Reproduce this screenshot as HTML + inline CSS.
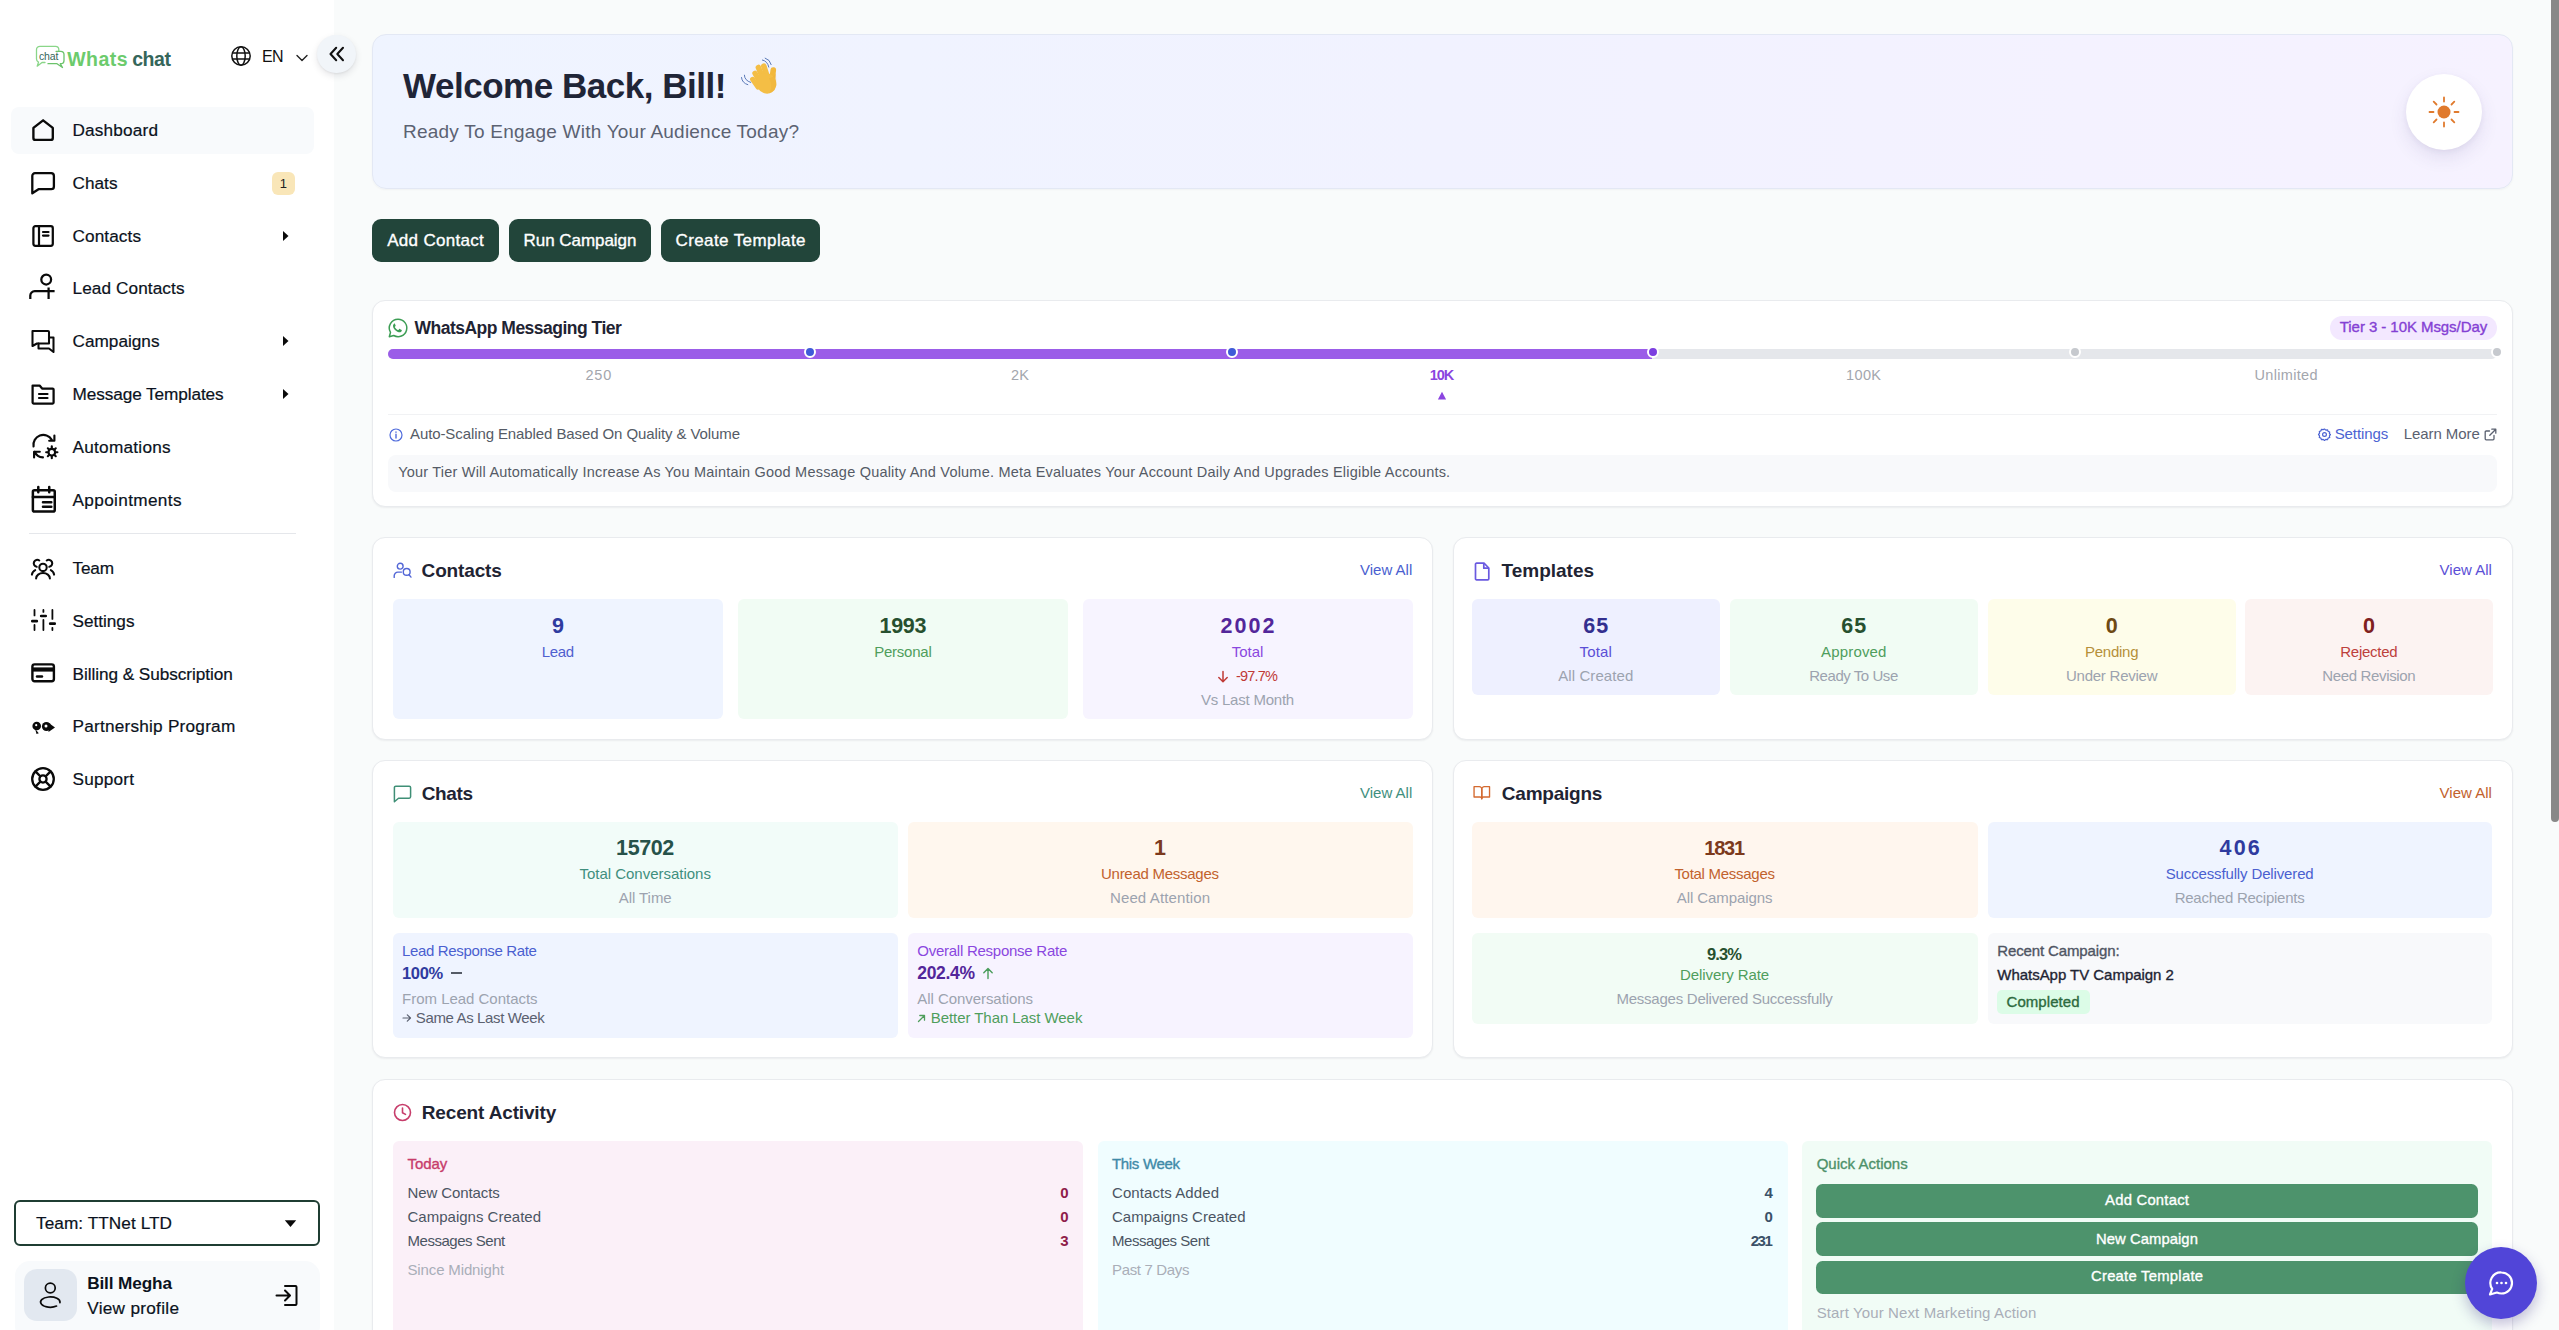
<!DOCTYPE html>
<html lang="en"><head><meta charset="utf-8"><title>Whatschat Dashboard</title><style>
*{margin:0;padding:0;box-sizing:border-box}
html,body{width:2559px;height:1330px;overflow:hidden;background:#f9fbfb}
body{font-family:"Liberation Sans", sans-serif;position:relative}
.b{position:absolute;display:block}
svg.b{overflow:visible}
.t{position:absolute;white-space:nowrap;display:block;font-weight:400;text-decoration:none}
.g{display:contents}
</style></head>
<body>
<aside class="g">
<div class="b" style="left:0px;top:0px;width:334px;height:1330px;background:#ffffff;"></div>
<svg class="b" style="left:34px;top:44px;" width="32" height="26" viewBox="0 0 32 26"><path d="M21.500 2.300H6a3.500 3.500 0 0 0-3.500 3.500v9.200a3.500 3.500 0 0 0 2 3.200L3.200 22.200l4.800-3.700h3M21.500 2.300a3.300 3.300 0 0 1 3.300 3.300v1.700" fill="none" stroke="#8ad689" stroke-width="1.300" stroke-linejoin="round" stroke-linecap="round"/><path d="M22 7.300h4.800a3.200 3.200 0 0 1 3.200 3.200v6a3.200 3.200 0 0 1-3.200 3.200h-.5l2.200 3.800-5.500-3.800h-9" fill="none" stroke="#6cc36b" stroke-width="1.300" stroke-linejoin="round" stroke-linecap="round"/><text x="14.600" y="15.700" font-family="Liberation Sans, sans-serif" font-size="10.500" text-anchor="middle" fill="#35665a" letter-spacing="-0.200">chat</text></svg>
<span class="t" style="top:50.00px;font-size:19.5px;line-height:19.5px;color:#6ccb6c;font-weight:700;letter-spacing:0.450px;left:67.2px;">Whats</span>
<span class="t" style="top:50.00px;font-size:19.5px;line-height:19.5px;color:#35665a;font-weight:700;letter-spacing:-0.436px;left:132.2px;">chat</span>
<svg class="b" style="left:230px;top:45px;" width="22" height="22" viewBox="0 0 22 22"><g fill="none" stroke="#111" stroke-width="1.5"><circle cx="11" cy="11" r="9.2"/><ellipse cx="11" cy="11" rx="4.2" ry="9.2"/><path d="M2 8h18M2 14h18"/></g></svg>
<span class="t" style="top:49.00px;font-size:16px;line-height:16px;color:#111;letter-spacing:-0.734px;left:262px;">EN</span>
<svg class="b" style="left:295px;top:53px;" width="14" height="10" viewBox="0 0 14 10"><path d="M2 2.5l5 5 5-5" fill="none" stroke="#222" stroke-width="1.4" stroke-linecap="round" stroke-linejoin="round"/></svg>
<div class="b" style="left:317.4px;top:34.5px;width:38.2px;height:38.2px;background:#f1f5f9;border-radius:20px;box-shadow:0 3px 7px rgba(15,23,42,.10), 0 1px 2px rgba(15,23,42,.06);"></div>
<svg class="b" style="left:328.6px;top:45.7px;" width="16" height="16" viewBox="0 0 16 16"><path d="M7.2 1.800L1.500 8l5.700 6.200M14 1.800L8.300 8l5.700 6.200" fill="none" stroke="#111" stroke-width="2.05" stroke-linecap="round" stroke-linejoin="round"/></svg>
<div class="b" style="left:11px;top:106.5px;width:303px;height:47.5px;background:#f8fafc;border-radius:8px;"></div>
<a class="t" style="top:122.00px;font-size:17.2px;line-height:17.2px;color:#0b1220;-webkit-text-stroke:0.2px currentColor;letter-spacing:0.176px;left:72.5px;">Dashboard</a>
<a class="t" style="top:175.00px;font-size:17.2px;line-height:17.2px;color:#0b1220;-webkit-text-stroke:0.2px currentColor;letter-spacing:0.023px;left:72.5px;">Chats</a>
<a class="t" style="top:228.00px;font-size:17.2px;line-height:17.2px;color:#0b1220;-webkit-text-stroke:0.2px currentColor;letter-spacing:0.096px;left:72.5px;">Contacts</a>
<a class="t" style="top:280.00px;font-size:17.2px;line-height:17.2px;color:#0b1220;-webkit-text-stroke:0.2px currentColor;letter-spacing:0.096px;left:72.5px;">Lead Contacts</a>
<a class="t" style="top:333.00px;font-size:17.2px;line-height:17.2px;color:#0b1220;-webkit-text-stroke:0.2px currentColor;letter-spacing:0.008px;left:72.5px;">Campaigns</a>
<a class="t" style="top:386.00px;font-size:17.2px;line-height:17.2px;color:#0b1220;-webkit-text-stroke:0.2px currentColor;letter-spacing:-0.084px;left:72.5px;">Message Templates</a>
<a class="t" style="top:439.00px;font-size:17.2px;line-height:17.2px;color:#0b1220;-webkit-text-stroke:0.2px currentColor;letter-spacing:0.265px;left:72.5px;">Automations</a>
<a class="t" style="top:492.00px;font-size:17.2px;line-height:17.2px;color:#0b1220;-webkit-text-stroke:0.2px currentColor;letter-spacing:0.354px;left:72.5px;">Appointments</a>
<a class="t" style="top:560.00px;font-size:17.2px;line-height:17.2px;color:#0b1220;-webkit-text-stroke:0.2px currentColor;letter-spacing:-0.177px;left:72.5px;">Team</a>
<a class="t" style="top:613.00px;font-size:17.2px;line-height:17.2px;color:#0b1220;-webkit-text-stroke:0.2px currentColor;letter-spacing:-0.016px;left:72.5px;">Settings</a>
<a class="t" style="top:666.00px;font-size:17.2px;line-height:17.2px;color:#0b1220;-webkit-text-stroke:0.2px currentColor;letter-spacing:-0.055px;left:72.5px;">Billing &amp; Subscription</a>
<a class="t" style="top:718.00px;font-size:17.2px;line-height:17.2px;color:#0b1220;-webkit-text-stroke:0.2px currentColor;letter-spacing:0.229px;left:72.5px;">Partnership Program</a>
<a class="t" style="top:771.00px;font-size:17.2px;line-height:17.2px;color:#0b1220;-webkit-text-stroke:0.2px currentColor;letter-spacing:0.216px;left:72.5px;">Support</a>
<svg class="b" style="left:31.2px;top:118.0px;" width="24" height="24" viewBox="0 0 24 24"><g fill="none" stroke="#0a0a0a" stroke-width="2.25" stroke-linecap="round" stroke-linejoin="round"><path d="M2.400 9.900L12.100 2.300l9.700 7.600v10a2 2 0 0 1-2 2H4.400a2 2 0 0 1-2-2z" stroke-width="2.35"/></g></svg>
<svg class="b" style="left:31.2px;top:171.32999999999998px;" width="24" height="24" viewBox="0 0 24 24"><g fill="none" stroke="#0a0a0a" stroke-width="2.25" stroke-linecap="round" stroke-linejoin="round"><path d="M4 2.200h16.200a2.700 2.700 0 0 1 2.700 2.700v10.600a2.700 2.700 0 0 1-2.700 2.700H7.500L1.300 22.300V4.900A2.700 2.700 0 0 1 4 2.200z" stroke-width="2.3"/></g></svg>
<svg class="b" style="left:31.2px;top:223.66px;" width="24" height="24" viewBox="0 0 24 24"><g fill="none" stroke="#0a0a0a" stroke-width="2.25" stroke-linecap="round" stroke-linejoin="round"><rect x="2.4" y="2.2" width="19.4" height="19.6" rx="2"/><path d="M8 2.2v19.6M12 8h5.5M12 11.6h5.5" stroke-width="2.2"/></g></svg>
<svg class="b" style="left:28px;top:271.19px;" width="28" height="30" viewBox="0 0 28 30"><g fill="none" stroke="#0a0a0a" stroke-width="2.25" stroke-linecap="round" stroke-linejoin="round" stroke-width="2.1"><circle cx="18.2" cy="8.6" r="4.9"/><path d="M2.3 28v-3.400a4.400 4.400 0 0 1 4.400-4.400H26.600M20.600 16.600V28" stroke-linecap="butt"/></g></svg>
<svg class="b" style="left:31.2px;top:329.32px;" width="24" height="24" viewBox="0 0 24 24"><g fill="none" stroke="#0a0a0a" stroke-width="2.25" stroke-linecap="round" stroke-linejoin="round"><path d="M1.5 2h15.5a1 1 0 0 1 1 1v11.5H6L1.5 17z" stroke-width="2.05"/><path d="M7.5 14.5v5h10.5l4.5 3.5V8.5h-4.5" stroke-width="2.05"/></g></svg>
<svg class="b" style="left:31.2px;top:381.65px;" width="24" height="24" viewBox="0 0 24 24"><g fill="none" stroke="#0a0a0a" stroke-width="2.25" stroke-linecap="round" stroke-linejoin="round"><path d="M1.6 3.5h7l2.5 3h10.5a1 1 0 0 1 1 1v13a1 1 0 0 1-1 1H2.6a1 1 0 0 1-1-1z"/><path d="M8 12h8.5M8 16h8.5" stroke-width="2.2"/></g></svg>
<svg class="b" style="left:31.5px;top:434.48px;" width="25" height="25" viewBox="0 0 24 24"><g fill="none" stroke="#0a0a0a" stroke-width="2.25" stroke-linecap="round" stroke-linejoin="round"><path d="M1.5 12A9.5 9.5 0 0 1 19 5.5M21.5 1.5v5h-5" stroke-width="2.05"/><path d="M10.5 22.5A9.5 9.5 0 0 1 2.5 17M2 22.5v-5.5h5.5" stroke-width="2.05"/><circle cx="19" cy="17.5" r="3.2" stroke-width="2.05"/><path d="M19 11.8v2M19 21.2v2M13.6 17.5h2M22.4 17.5h2M15.2 13.7l1.4 1.4M21.4 19.9l1.4 1.4M22.8 13.7l-1.4 1.4M16.6 19.9l-1.4 1.4" stroke-width="2.05"/></g></svg>
<svg class="b" style="left:31.2px;top:486.31px;" width="25" height="25" viewBox="0 0 24 24"><g fill="none" stroke="#0a0a0a" stroke-width="2.25" stroke-linecap="round" stroke-linejoin="round"><rect x="1.8" y="4" width="21" height="20.5" rx="1.5" stroke-width="2.4"/><path d="M1.8 10.5h21M7 1v5M17.5 1v5M11.5 15.5h8M11.5 20h8" stroke-width="2.4"/></g></svg>
<svg class="b" style="left:31.2px;top:559.0px;" width="24" height="24" viewBox="0 0 24 24"><g fill="none" stroke="#0a0a0a" stroke-width="2.25" stroke-linecap="round" stroke-linejoin="round"><circle cx="12" cy="8.400" r="3.700" stroke-width="2.050"/><path d="M5.100 19.400a6.900 5.400 0 0 1 13.800 0" stroke-width="2.050"/><path d="M8.300 1.500A3.500 3.500 0 1 0 5.700 7.800M15.700 1.500a3.500 3.500 0 1 1 2.600 6.300M0.900 15.600a6 6 0 0 1 3.300-4.500M23.100 15.600a6 6 0 0 0-3.300-4.500" stroke-width="2.050"/></g></svg>
<svg class="b" style="left:31px;top:609.4300000000001px;" width="25" height="22" viewBox="0 0 25 22"><g fill="none" stroke="#0a0a0a" stroke-linecap="round"><path d="M3.500 0.900v5.500M3.500 16v5M12.400 0.900v2M12.400 11v10M21.400 0.900v9M21.400 18.800v2.200" stroke-width="1.800"/><path d="M1.300 12.200h4.500M10.200 7h4.500M19.200 14.700h4.500" stroke-width="2.700"/></g></svg>
<svg class="b" style="left:31.2px;top:662.36px;" width="24" height="24" viewBox="0 0 24 24"><g fill="none" stroke="#0a0a0a" stroke-width="2.25" stroke-linecap="round" stroke-linejoin="round"><rect x="1.400" y="2.400" width="21.500" height="16.800" rx="2.200" stroke-width="2.400"/><path d="M1.400 7.500h21.500" stroke-width="4.200" stroke-linecap="butt"/><path d="M6 14.500h5" stroke-width="2.400"/></g></svg>
<svg class="b" style="left:31.5px;top:720.89px;" width="24" height="13" viewBox="0 0 24 13"><g fill="#0a0a0a"><circle cx="4.700" cy="5" r="4.300"/><path d="M3.200 8l3.600 4.200-2.300.8z"/><circle cx="14.400" cy="5.500" r="4.500"/><path d="M16.500 1.800l6.500 4.800-6.500 4.400z"/><circle cx="4.200" cy="4.200" r="1.100" fill="#fff"/><circle cx="14" cy="5" r="1.500" fill="#fff"/></g></svg>
<svg class="b" style="left:31.2px;top:767.3199999999999px;" width="24" height="24" viewBox="0 0 24 24"><g fill="none" stroke="#0a0a0a" stroke-width="2.25" stroke-linecap="round" stroke-linejoin="round"><circle cx="12" cy="12" r="10.800" stroke-width="2.300"/><circle cx="12" cy="12" r="3.600" stroke-width="2.300"/><path d="M4.400 4.400l5 5M19.600 4.400l-5 5M4.400 19.600l5-5M19.600 19.600l-5-5" stroke-width="2.300"/></g></svg>
<div class="b" style="left:271.5px;top:171.5px;width:23.5px;height:23px;background:#f9e6b8;border-radius:6px;"></div>
<span class="t" style="top:177.00px;font-size:13px;line-height:13px;color:#222;left:283.30px;transform:translateX(-50%);">1</span>
<svg class="b" style="left:282px;top:229.66px;" width="8" height="12" viewBox="0 0 8 12"><path d="M1 1l5.500 5-5.500 5z" fill="#0a0a0a"/></svg>
<svg class="b" style="left:282px;top:335.32px;" width="8" height="12" viewBox="0 0 8 12"><path d="M1 1l5.500 5-5.500 5z" fill="#0a0a0a"/></svg>
<svg class="b" style="left:282px;top:388.15px;" width="8" height="12" viewBox="0 0 8 12"><path d="M1 1l5.500 5-5.500 5z" fill="#0a0a0a"/></svg>
<div class="b" style="left:29px;top:533px;width:267px;height:1px;background:#e5e7eb;"></div>
<div class="b" style="left:14.3px;top:1200.3px;width:305.4px;height:46.1px;background:#fff;border-radius:6px;border:2px solid #1f3d33;"></div>
<span class="t" style="top:1215.00px;font-size:17.2px;line-height:17.2px;color:#0b1220;-webkit-text-stroke:0.2px currentColor;letter-spacing:0.073px;left:36px;">Team: TTNet LTD</span>
<svg class="b" style="left:284px;top:1219px;" width="13" height="9" viewBox="0 0 13 9"><path d="M0.800 1.200h11.400L6.500 8z" fill="#0a0a0a"/></svg>
<div class="b" style="left:15px;top:1260.6px;width:304.7px;height:80px;background:#f8fafc;border-radius:15px;"></div>
<div class="b" style="left:24.1px;top:1268.8px;width:53px;height:52.2px;background:#e2e8f0;border-radius:13px;"></div>
<svg class="b" style="left:38px;top:1280px;" width="26" height="28" viewBox="0 0 26 28"><g fill="none" stroke="#0a0a0a" stroke-width="1.700" stroke-linecap="round"><circle cx="12.300" cy="8" r="4.900"/><path d="M21.960 22.550A9.700 5.200 0 1 0 18.530 26.080"/></g></svg>
<span class="t" style="top:1275.00px;font-size:17.2px;line-height:17.2px;color:#0b1220;font-weight:700;letter-spacing:-0.128px;left:87.2px;">Bill Megha</span>
<span class="t" style="top:1300.00px;font-size:17.2px;line-height:17.2px;color:#0b1220;-webkit-text-stroke:0.2px currentColor;letter-spacing:0.297px;left:87.2px;">View profile</span>
<svg class="b" style="left:275px;top:1284px;" width="23" height="23" viewBox="0 0 23 23"><g fill="none" stroke="#0a0a0a" stroke-width="2" stroke-linecap="round" stroke-linejoin="round"><path d="M10 2h10.500a1 1 0 0 1 1 1v17a1 1 0 0 1-1 1H10"/><path d="M1.500 11.500h13M10 6.500l5 5-5 5"/></g></svg>
</aside>
<main class="g">
<header class="g">
<div class="b" style="left:372px;top:34px;width:2141px;height:155px;background:linear-gradient(90deg,#eff4ff 0%,#f1f2ff 50%,#f6f2ff 100%);border-radius:14px;border:1px solid #e3e8f4;box-shadow:0 1px 2px rgba(16,24,40,.04);"></div>
<h1 class="t" style="top:68.00px;font-size:35px;line-height:35px;color:#1f2537;font-weight:700;letter-spacing:-0.471px;left:403px;">Welcome Back, Bill!</h1>
<svg class="b" style="left:725px;top:45px;" width="70" height="60" viewBox="0 0 70 60"><g stroke="#f4be45" stroke-linecap="round" fill="none"><path d="M38.800 21.200L43 34" stroke-width="5.600"/><path d="M33.400 22.500L39 36" stroke-width="5.600"/><path d="M30 28.300L36 39" stroke-width="5.400"/><path d="M27.600 34.300L33 42" stroke-width="5"/><path d="M48.300 25L46.500 38" stroke-width="5.600" stroke="#f2b83c"/></g><ellipse cx="41.300" cy="38.300" rx="9.800" ry="10.600" transform="rotate(-32 41.300 38.300)" fill="#f4be45"/><path d="M44 33c2 .5 5-1 7-5l.2 12c-.5 4-3 7-7 8.200 2.500-4 2.800-9-.2-15.200z" fill="#efb23a" opacity=".55"/><g fill="none" stroke="#5273b3" stroke-width="0.950" stroke-linecap="round"><path d="M19.400 30.200Q19.500 35.500 25.700 37.400M16.500 32.500Q17 38 22.800 39.700M37.400 15Q42.500 16 43.800 22.100M40.200 13.100Q45 14.500 46.200 19.600"/></g></svg>
<p class="t" style="top:122.00px;font-size:19px;line-height:19px;color:#5b6272;letter-spacing:0.225px;left:403px;">Ready To Engage With Your Audience Today?</p>
<div class="b" style="left:2406px;top:74px;width:76px;height:76px;background:#fff;border-radius:38px;box-shadow:0 8px 18px rgba(60,50,120,.10), 0 2px 5px rgba(60,50,120,.06);"></div>
<svg class="b" style="left:2428px;top:96px;" width="32" height="32" viewBox="0 0 32 32"><g stroke="#e07a2d" stroke-width="1.800" stroke-linecap="round"><circle cx="16" cy="16" r="6.500" fill="#e07a2d" stroke="none"/><path d="M16 1.500v4M16 26.500v4M1.500 16h4M26.500 16h4M5.700 5.700l2.800 2.800M23.500 23.500l2.800 2.800M26.300 5.700l-2.800 2.800M8.500 23.500l-2.800 2.800"/></g></svg>
</header>
<nav class="g">
<div class="b" style="left:372px;top:219.2px;width:127px;height:42.8px;background:#22453a;border-radius:9px;"></div>
<a class="t" style="top:232.00px;font-size:17px;line-height:17px;color:#fff;-webkit-text-stroke:0.35px currentColor;letter-spacing:0.314px;left:435.66px;transform:translateX(-50%);">Add Contact</a>
<div class="b" style="left:509px;top:219.2px;width:142px;height:42.8px;background:#22453a;border-radius:9px;"></div>
<a class="t" style="top:232.00px;font-size:17px;line-height:17px;color:#fff;-webkit-text-stroke:0.35px currentColor;letter-spacing:-0.037px;left:579.98px;transform:translateX(-50%);">Run Campaign</a>
<div class="b" style="left:661px;top:219.2px;width:159px;height:42.8px;background:#22453a;border-radius:9px;"></div>
<a class="t" style="top:232.00px;font-size:17px;line-height:17px;color:#fff;-webkit-text-stroke:0.35px currentColor;letter-spacing:0.398px;left:740.70px;transform:translateX(-50%);">Create Template</a>
</nav>
<section class="g">
<div class="b" style="left:372px;top:300px;width:2141px;height:206.5px;background:#fff;border-radius:13px;border:1px solid #e9ebee;box-shadow:0 1px 2px rgba(16,24,40,.06);"></div>
<svg class="b" style="left:387.5px;top:318px;" width="20" height="20" viewBox="0 0 20 20"><path d="M10 1.300a8.700 8.700 0 0 0-7.500 13.100L1.300 18.700l4.400-1.200A8.700 8.700 0 1 0 10 1.300z" fill="none" stroke="#3c9d54" stroke-width="1.500" stroke-linejoin="round"/><path d="M6.800 5.600c-.3 0-.7.100-1 .5-.4.500-1 1.300-.7 2.600.4 1.600 1.500 3 2.900 4.100 1.300 1 2.600 1.500 3.600 1.500.9 0 1.800-.6 2.100-1.300.2-.5.200-1 0-1.100l-1.900-1c-.3-.1-.5 0-.7.200l-.6.800c-.2.200-.4.200-.7.100-1.200-.5-2.300-1.500-2.900-2.700-.1-.2 0-.4.100-.6l.5-.6c.2-.2.200-.4.100-.7L7 5.900c-.1-.2-.1-.3-.2-.3z" fill="#3c9d54"/></svg>
<h2 class="t" style="top:320.00px;font-size:17.5px;line-height:17.5px;color:#1f2433;font-weight:700;letter-spacing:-0.508px;left:414.5px;">WhatsApp Messaging Tier</h2>
<div class="b" style="left:2329.5px;top:316px;width:167.5px;height:24px;background:#f3e8ff;border-radius:12px;"></div>
<span class="t" style="top:319.00px;font-size:15px;line-height:15px;color:#8440d4;-webkit-text-stroke:0.35px currentColor;letter-spacing:-0.063px;left:2339.8px;">Tier 3 - 10K Msgs/Day</span>
<div class="b" style="left:388px;top:349px;width:2109px;height:10px;background:#e5e7eb;border-radius:5px;"></div>
<div class="b" style="left:388px;top:349px;width:1264px;height:10px;background:#9b5de8;border-radius:5px;border-radius:5px 0 0 5px;"></div>
<div class="b" style="left:804px;top:346px;width:12px;height:12px;background:#3f5bd8;border-radius:6px;border:2px solid #fff;"></div>
<div class="b" style="left:1225.5px;top:346px;width:12px;height:12px;background:#3f5bd8;border-radius:6px;border:2px solid #fff;"></div>
<div class="b" style="left:1646.9px;top:346px;width:12px;height:12px;background:#7c3fe0;border-radius:6px;border:2px solid #fff;"></div>
<div class="b" style="left:2069px;top:346px;width:12px;height:12px;background:#c6c9ce;border-radius:6px;border:2px solid #fff;"></div>
<div class="b" style="left:2491px;top:346px;width:12px;height:12px;background:#c6c9ce;border-radius:6px;border:2px solid #fff;"></div>
<span class="t" style="top:368.00px;font-size:14.5px;line-height:14.5px;color:#a3a6ad;letter-spacing:0.698px;left:598.75px;transform:translateX(-50%);">250</span>
<span class="t" style="top:368.00px;font-size:14.5px;line-height:14.5px;color:#a3a6ad;letter-spacing:0.250px;left:1020.12px;transform:translateX(-50%);">2K</span>
<span class="t" style="top:368.00px;font-size:14.5px;line-height:14.5px;color:#a3a6ad;letter-spacing:0.375px;left:1863.69px;transform:translateX(-50%);">100K</span>
<span class="t" style="top:368.00px;font-size:14.5px;line-height:14.5px;color:#a3a6ad;letter-spacing:0.320px;left:2286.16px;transform:translateX(-50%);">Unlimited</span>
<span class="t" style="top:368.00px;font-size:14.5px;line-height:14.5px;color:#8b45e0;font-weight:700;letter-spacing:-1.155px;left:1441.42px;transform:translateX(-50%);">10K</span>
<svg class="b" style="left:1437.2px;top:390.6px;" width="10" height="9" viewBox="0 0 10 9"><path d="M5 .7l4.100 7.800H.9z" fill="#8b45e0"/></svg>
<div class="b" style="left:388px;top:414px;width:2109px;height:1px;background:#f1f2f4;"></div>
<svg class="b" style="left:389px;top:427.5px;" width="14" height="14" viewBox="0 0 14 14"><circle cx="7" cy="7" r="6" fill="none" stroke="#4f6bdc" stroke-width="1.200"/><path d="M7 6.300v3.700M7 4v.3" stroke="#4f6bdc" stroke-width="1.400" stroke-linecap="round"/></svg>
<span class="t" style="top:426.00px;font-size:15px;line-height:15px;color:#555b66;letter-spacing:-0.097px;left:410px;">Auto-Scaling Enabled Based On Quality &amp; Volume</span>
<svg class="b" style="left:2318px;top:428px;" width="13" height="13" viewBox="0 0 13 13"><g fill="none" stroke="#4c63d2" stroke-width="1.200"><circle cx="6.500" cy="6.500" r="1.900"/><path d="M6.500 1l1.300 1.100 1.700-.3.600 1.600 1.600.600-.3 1.700L12.500 6.500l-1.100 1.300.3 1.700-1.600.600-.6 1.600-1.700-.3L6.500 12.500 5.200 11.400l-1.700.3-.6-1.600-1.600-.6.300-1.700L.5 6.500l1.100-1.300-.3-1.700 1.600-.6.600-1.600 1.700.3z" stroke-linejoin="round"/></g></svg>
<span class="t" style="top:426.00px;font-size:15px;line-height:15px;color:#4c63d2;letter-spacing:-0.100px;left:2334.7px;">Settings</span>
<span class="t" style="top:426.00px;font-size:15px;line-height:15px;color:#5b6170;letter-spacing:-0.080px;left:2403.8px;">Learn More</span>
<svg class="b" style="left:2484px;top:428px;" width="13" height="13" viewBox="0 0 13 13"><g fill="none" stroke="#5b6170" stroke-width="1.300" stroke-linecap="round" stroke-linejoin="round"><path d="M10 7.500v3.300a1 1 0 0 1-1 1H2.200a1 1 0 0 1-1-1V4a1 1 0 0 1 1-1h3.300"/><path d="M7.800 1.200h4v4M11.800 1.200L5.800 7.200"/></g></svg>
<div class="b" style="left:388px;top:455px;width:2109px;height:36.5px;background:#f8f9fb;border-radius:8px;"></div>
<span class="t" style="top:465.00px;font-size:14.5px;line-height:14.5px;color:#555b66;letter-spacing:0.207px;left:398.2px;">Your Tier Will Automatically Increase As You Maintain Good Message Quality And Volume. Meta Evaluates Your Account Daily And Upgrades Eligible Accounts.</span>
</section>
<section class="g">
<div class="b" style="left:372px;top:536.5px;width:1060.5px;height:203px;background:#fff;border-radius:13px;border:1px solid #e9ebee;box-shadow:0 1px 2px rgba(16,24,40,.06);"></div>
<svg class="b" style="left:393px;top:562px;" width="20" height="17" viewBox="0 0 20 17"><g fill="none" stroke="#5266d6" stroke-width="1.400" stroke-linecap="round"><circle cx="7.200" cy="4.200" r="2.900"/><path d="M1.200 15.400v-1.600a3.700 3.700 0 0 1 3.700-3.700h3.600"/><circle cx="13.700" cy="9.900" r="3.400"/><path d="M16 12.700l2 2.400"/></g></svg>
<h2 class="t" style="top:561.00px;font-size:19px;line-height:19px;color:#1f2433;font-weight:700;letter-spacing:-0.157px;left:421.6px;">Contacts</h2>
<span class="t" style="top:562.00px;font-size:15px;line-height:15px;color:#4a5fd0;left:1360px;">View All</span>
<div class="b" style="left:393px;top:599px;width:330px;height:119.5px;background:#eff4ff;border-radius:6px;"></div>
<div class="b" style="left:738px;top:599px;width:330px;height:119.5px;background:#f1fcf4;border-radius:6px;"></div>
<div class="b" style="left:1083px;top:599px;width:330px;height:119.5px;background:#f7f4ff;border-radius:6px;"></div>
<span class="t" style="top:616.00px;font-size:21.5px;line-height:21.5px;color:#2f3b9f;font-weight:700;left:558.00px;transform:translateX(-50%);">9</span>
<span class="t" style="top:644.00px;font-size:15px;line-height:15px;color:#4f60cf;letter-spacing:-0.358px;left:557.82px;transform:translateX(-50%);">Lead</span>
<span class="t" style="top:616.00px;font-size:21.5px;line-height:21.5px;color:#27502f;font-weight:700;letter-spacing:-0.281px;left:902.86px;transform:translateX(-50%);">1993</span>
<span class="t" style="top:644.00px;font-size:15px;line-height:15px;color:#4f9e5c;letter-spacing:-0.243px;left:902.88px;transform:translateX(-50%);">Personal</span>
<span class="t" style="top:616.00px;font-size:21.5px;line-height:21.5px;color:#53269a;font-weight:700;letter-spacing:2.119px;left:1248.56px;transform:translateX(-50%);">2002</span>
<span class="t" style="top:644.00px;font-size:15px;line-height:15px;color:#8a47e0;left:1247.50px;transform:translateX(-50%);">Total</span>
<svg class="b" style="left:1217px;top:670px;" width="12" height="13" viewBox="0 0 12 13"><path d="M6 1.500v10M1.800 7.500L6 11.700l4.200-4.200" fill="none" stroke="#c03a36" stroke-width="1.500" stroke-linecap="round" stroke-linejoin="round"/></svg>
<span class="t" style="top:669.00px;font-size:14.5px;line-height:14.5px;color:#c03a36;letter-spacing:-0.791px;left:1236px;">-97.7%</span>
<span class="t" style="top:692.00px;font-size:15px;line-height:15px;color:#9ca3af;letter-spacing:-0.224px;left:1247.49px;transform:translateX(-50%);">Vs Last Month</span>
</section>
<section class="g">
<div class="b" style="left:1452.5px;top:536.5px;width:1060.5px;height:203px;background:#fff;border-radius:13px;border:1px solid #e9ebee;box-shadow:0 1px 2px rgba(16,24,40,.06);"></div>
<svg class="b" style="left:1473.5px;top:561.5px;" width="17" height="19" viewBox="0 0 17 19"><g fill="none" stroke="#6a5ae0" stroke-width="1.700" stroke-linejoin="round"><path d="M2.500 1.200h7.500l4.800 4.800v10.800a1 1 0 0 1-1 1H2.500a1 1 0 0 1-1-1V2.200a1 1 0 0 1 1-1z"/><path d="M9.800 1.500v4.700h4.700"/></g></svg>
<h2 class="t" style="top:561.00px;font-size:19px;line-height:19px;color:#1f2433;font-weight:700;letter-spacing:-0.022px;left:1501.6px;">Templates</h2>
<span class="t" style="top:562.00px;font-size:15px;line-height:15px;color:#5b4fd6;left:2439.6px;">View All</span>
<div class="b" style="left:1472px;top:599px;width:247.5px;height:95.5px;background:#eef0ff;border-radius:6px;"></div>
<span class="t" style="top:616.00px;font-size:21.5px;line-height:21.5px;color:#332f8f;font-weight:700;letter-spacing:1.078px;left:1596.29px;transform:translateX(-50%);">65</span>
<span class="t" style="top:644.00px;font-size:15px;line-height:15px;color:#5b4fd6;letter-spacing:0.153px;left:1595.83px;transform:translateX(-50%);">Total</span>
<span class="t" style="top:668.00px;font-size:15px;line-height:15px;color:#9ca3af;letter-spacing:0.080px;left:1595.79px;transform:translateX(-50%);">All Created</span>
<div class="b" style="left:1730px;top:599px;width:247.5px;height:95.5px;background:#f1fcf4;border-radius:6px;"></div>
<span class="t" style="top:616.00px;font-size:21.5px;line-height:21.5px;color:#27502f;font-weight:700;letter-spacing:1.078px;left:1854.29px;transform:translateX(-50%);">65</span>
<span class="t" style="top:644.00px;font-size:15px;line-height:15px;color:#4f9e5c;letter-spacing:0.169px;left:1853.83px;transform:translateX(-50%);">Approved</span>
<span class="t" style="top:668.00px;font-size:15px;line-height:15px;color:#9ca3af;letter-spacing:-0.450px;left:1853.52px;transform:translateX(-50%);">Ready To Use</span>
<div class="b" style="left:1988px;top:599px;width:247.5px;height:95.5px;background:#fefdea;border-radius:6px;"></div>
<span class="t" style="top:616.00px;font-size:21.5px;line-height:21.5px;color:#6e4a14;font-weight:700;left:2111.75px;transform:translateX(-50%);">0</span>
<span class="t" style="top:644.00px;font-size:15px;line-height:15px;color:#b5903a;letter-spacing:-0.244px;left:2111.63px;transform:translateX(-50%);">Pending</span>
<span class="t" style="top:668.00px;font-size:15px;line-height:15px;color:#9ca3af;letter-spacing:-0.238px;left:2111.63px;transform:translateX(-50%);">Under Review</span>
<div class="b" style="left:2245.2px;top:599px;width:247.5px;height:95.5px;background:#fcf3f2;border-radius:6px;"></div>
<span class="t" style="top:616.00px;font-size:21.5px;line-height:21.5px;color:#7f2020;font-weight:700;left:2368.95px;transform:translateX(-50%);">0</span>
<span class="t" style="top:644.00px;font-size:15px;line-height:15px;color:#bd403c;letter-spacing:-0.258px;left:2368.82px;transform:translateX(-50%);">Rejected</span>
<span class="t" style="top:668.00px;font-size:15px;line-height:15px;color:#9ca3af;letter-spacing:-0.355px;left:2368.77px;transform:translateX(-50%);">Need Revision</span>
</section>
<section class="g">
<div class="b" style="left:372px;top:759.5px;width:1060.5px;height:298px;background:#fff;border-radius:13px;border:1px solid #e9ebee;box-shadow:0 1px 2px rgba(16,24,40,.06);"></div>
<svg class="b" style="left:393px;top:785px;" width="19" height="18" viewBox="0 0 19 18"><path d="M2.800 1.200h13.400a1.400 1.400 0 0 1 1.400 1.400v9.200a1.400 1.400 0 0 1-1.400 1.400H5.500L1.400 16.700V2.600a1.400 1.400 0 0 1 1.400-1.400z" fill="none" stroke="#3f8f76" stroke-width="1.500" stroke-linejoin="round"/></svg>
<h2 class="t" style="top:784.00px;font-size:19px;line-height:19px;color:#1f2433;font-weight:700;letter-spacing:-0.399px;left:421.8px;">Chats</h2>
<span class="t" style="top:785.00px;font-size:15px;line-height:15px;color:#3f8f7e;left:1360px;">View All</span>
<div class="b" style="left:393px;top:822.2px;width:505px;height:95.5px;background:#f2fcf9;border-radius:6px;"></div>
<div class="b" style="left:907.5px;top:822.2px;width:505.5px;height:95.5px;background:#fff7ee;border-radius:6px;"></div>
<span class="t" style="top:838.00px;font-size:21.5px;line-height:21.5px;color:#27524a;font-weight:700;letter-spacing:-0.399px;left:645.00px;transform:translateX(-50%);">15702</span>
<span class="t" style="top:866.00px;font-size:15px;line-height:15px;color:#3f8f7e;letter-spacing:-0.019px;left:645.19px;transform:translateX(-50%);">Total Conversations</span>
<span class="t" style="top:890.00px;font-size:15px;line-height:15px;color:#9ca3af;letter-spacing:-0.049px;left:645.18px;transform:translateX(-50%);">All Time</span>
<span class="t" style="top:838.00px;font-size:21.5px;line-height:21.5px;color:#7c3a1d;font-weight:700;left:1160.00px;transform:translateX(-50%);">1</span>
<span class="t" style="top:866.00px;font-size:15px;line-height:15px;color:#c2622d;letter-spacing:-0.267px;left:1159.87px;transform:translateX(-50%);">Unread Messages</span>
<span class="t" style="top:890.00px;font-size:15px;line-height:15px;color:#9ca3af;letter-spacing:0.121px;left:1160.06px;transform:translateX(-50%);">Need Attention</span>
<div class="b" style="left:393px;top:933px;width:505px;height:104.5px;background:#eff4ff;border-radius:6px;"></div>
<div class="b" style="left:907.5px;top:933px;width:505.5px;height:104.5px;background:#f7f3ff;border-radius:6px;"></div>
<span class="t" style="top:943.00px;font-size:15px;line-height:15px;color:#4a5fd0;letter-spacing:-0.361px;left:402.1px;">Lead Response Rate</span>
<span class="t" style="top:965.00px;font-size:16.5px;line-height:16.5px;color:#2f3b9f;font-weight:700;letter-spacing:-0.401px;left:402.1px;">100%</span>
<div class="b" style="left:451px;top:972.3px;width:10.5px;height:1.5px;background:#555b66;"></div>
<span class="t" style="top:991.00px;font-size:15px;line-height:15px;color:#9ca3af;letter-spacing:-0.024px;left:402.1px;">From Lead Contacts</span>
<svg class="b" style="left:402px;top:1013px;" width="10" height="10" viewBox="0 0 10 10"><path d="M1 5h7.500M5.300 1.800L8.500 5 5.300 8.200" fill="none" stroke="#5b6170" stroke-width="1.200" stroke-linecap="round" stroke-linejoin="round"/></svg>
<span class="t" style="top:1010.00px;font-size:15px;line-height:15px;color:#5b6170;letter-spacing:-0.362px;left:415.8px;">Same As Last Week</span>
<span class="t" style="top:943.00px;font-size:15px;line-height:15px;color:#8a47e0;letter-spacing:-0.254px;left:917.3px;">Overall Response Rate</span>
<span class="t" style="top:965.00px;font-size:17.5px;line-height:17.5px;color:#53269a;font-weight:700;letter-spacing:-0.332px;left:917.3px;">202.4%</span>
<svg class="b" style="left:982px;top:966.5px;" width="12" height="13" viewBox="0 0 12 13"><path d="M6 11.500v-10M1.800 5.700L6 1.500l4.200 4.200" fill="none" stroke="#4a9d5b" stroke-width="1.400" stroke-linecap="round" stroke-linejoin="round"/></svg>
<span class="t" style="top:991.00px;font-size:15px;line-height:15px;color:#9ca3af;letter-spacing:-0.057px;left:917.3px;">All Conversations</span>
<svg class="b" style="left:917px;top:1013.5px;" width="9" height="9" viewBox="0 0 9 9"><path d="M1.500 7.500l6-6M2.800 1.500h4.700v4.700" fill="none" stroke="#4f9e5c" stroke-width="1.300" stroke-linecap="round" stroke-linejoin="round"/></svg>
<span class="t" style="top:1010.00px;font-size:15px;line-height:15px;color:#4f9e5c;letter-spacing:-0.064px;left:930.8px;">Better Than Last Week</span>
</section>
<section class="g">
<div class="b" style="left:1452.5px;top:759.5px;width:1060.5px;height:298px;background:#fff;border-radius:13px;border:1px solid #e9ebee;box-shadow:0 1px 2px rgba(16,24,40,.06);"></div>
<svg class="b" style="left:1472.8px;top:785.2px;" width="17.6" height="15.6" viewBox="0 0 20 17"><g fill="none" stroke="#d46a30" stroke-width="1.550" stroke-linejoin="round"><path d="M1.200 1.500h6a2.800 2.800 0 0 1 2.800 2.800v11a2 2 0 0 0-2-2H1.200z"/><path d="M18.800 1.500h-6A2.800 2.800 0 0 0 10 4.300v11a2 2 0 0 1 2-2h6.800z"/></g></svg>
<h2 class="t" style="top:784.00px;font-size:19px;line-height:19px;color:#1f2433;font-weight:700;letter-spacing:-0.228px;left:1501.8px;">Campaigns</h2>
<span class="t" style="top:785.00px;font-size:15px;line-height:15px;color:#c2622d;left:2439.6px;">View All</span>
<div class="b" style="left:1472px;top:822.2px;width:505.5px;height:95.5px;background:#fff6ee;border-radius:6px;"></div>
<div class="b" style="left:1987.5px;top:822.2px;width:504.5px;height:95.5px;background:#eff4ff;border-radius:6px;"></div>
<span class="t" style="top:838.00px;font-size:20px;line-height:20px;color:#7c3a1d;font-weight:700;letter-spacing:-1.167px;left:1724.12px;transform:translateX(-50%);">1831</span>
<span class="t" style="top:866.00px;font-size:15px;line-height:15px;color:#c2622d;letter-spacing:-0.278px;left:1724.56px;transform:translateX(-50%);">Total Messages</span>
<span class="t" style="top:890.00px;font-size:15px;line-height:15px;color:#9ca3af;letter-spacing:-0.077px;left:1724.66px;transform:translateX(-50%);">All Campaigns</span>
<span class="t" style="top:838.00px;font-size:21.5px;line-height:21.5px;color:#2f3b9f;font-weight:700;letter-spacing:2.163px;left:2240.78px;transform:translateX(-50%);">406</span>
<span class="t" style="top:866.00px;font-size:15px;line-height:15px;color:#4a5fd0;letter-spacing:-0.138px;left:2239.63px;transform:translateX(-50%);">Successfully Delivered</span>
<span class="t" style="top:890.00px;font-size:15px;line-height:15px;color:#9ca3af;letter-spacing:-0.250px;left:2239.57px;transform:translateX(-50%);">Reached Recipients</span>
<div class="b" style="left:1472px;top:933.3px;width:505.5px;height:90.5px;background:#f2fcf5;border-radius:6px;"></div>
<div class="b" style="left:1987.5px;top:933.3px;width:504.5px;height:90.5px;background:#f8f9fb;border-radius:6px;"></div>
<span class="t" style="top:946.00px;font-size:16.5px;line-height:16.5px;color:#27502f;font-weight:700;letter-spacing:-0.870px;left:1724.07px;transform:translateX(-50%);">9.3%</span>
<span class="t" style="top:967.00px;font-size:15px;line-height:15px;color:#4f9e5c;letter-spacing:-0.086px;left:1724.56px;transform:translateX(-50%);">Delivery Rate</span>
<span class="t" style="top:991.00px;font-size:15px;line-height:15px;color:#9ca3af;letter-spacing:-0.238px;left:1724.48px;transform:translateX(-50%);">Messages Delivered Successfully</span>
<span class="t" style="top:943.00px;font-size:15px;line-height:15px;color:#4f5563;-webkit-text-stroke:0.35px currentColor;letter-spacing:-0.129px;left:1997.3px;">Recent Campaign:</span>
<span class="t" style="top:967.00px;font-size:15px;line-height:15px;color:#1f2433;-webkit-text-stroke:0.35px currentColor;letter-spacing:-0.034px;left:1997.3px;">WhatsApp TV Campaign 2</span>
<div class="b" style="left:1996.8px;top:990px;width:93.2px;height:24px;background:#dcfce7;border-radius:5px;"></div>
<span class="t" style="top:994.00px;font-size:15px;line-height:15px;color:#2d6a3e;-webkit-text-stroke:0.35px currentColor;letter-spacing:0.057px;left:2006.5px;">Completed</span>
</section>
<section class="g">
<div class="b" style="left:372px;top:1078.5px;width:2141px;height:300px;background:#fff;border-radius:13px;border:1px solid #e9ebee;box-shadow:0 1px 2px rgba(16,24,40,.06);"></div>
<svg class="b" style="left:393px;top:1103px;" width="19" height="19" viewBox="0 0 19 19"><g fill="none" stroke="#c73d6b" stroke-width="1.600" stroke-linecap="round" stroke-linejoin="round"><circle cx="9.500" cy="9.500" r="8"/><path d="M9.500 5v4.800l3 1.600"/></g></svg>
<h2 class="t" style="top:1103.00px;font-size:19px;line-height:19px;color:#1f2433;font-weight:700;letter-spacing:-0.154px;left:421.8px;">Recent Activity</h2>
<div class="b" style="left:393px;top:1141px;width:690px;height:220px;background:#fbf0f8;border-radius:6px;"></div>
<div class="b" style="left:1097.7px;top:1141px;width:690px;height:220px;background:#f0fdff;border-radius:6px;"></div>
<div class="b" style="left:1802.3px;top:1141px;width:690px;height:220px;background:#f1fcf6;border-radius:6px;"></div>
<span class="t" style="top:1156.00px;font-size:15px;line-height:15px;color:#c73d6b;-webkit-text-stroke:0.35px currentColor;letter-spacing:-0.083px;left:407.5px;">Today</span>
<span class="t" style="top:1185.00px;font-size:15px;line-height:15px;color:#4b5563;letter-spacing:-0.107px;left:407.5px;">New Contacts</span>
<span class="t" style="top:1185.00px;font-size:15px;line-height:15px;color:#8f1d4a;font-weight:700;left:1068.60px;transform:translateX(-100%);">0</span>
<span class="t" style="top:1209.00px;font-size:15px;line-height:15px;color:#4b5563;letter-spacing:0.006px;left:407.5px;">Campaigns Created</span>
<span class="t" style="top:1209.00px;font-size:15px;line-height:15px;color:#8f1d4a;font-weight:700;left:1068.60px;transform:translateX(-100%);">0</span>
<span class="t" style="top:1233.00px;font-size:15px;line-height:15px;color:#4b5563;letter-spacing:-0.474px;left:407.5px;">Messages Sent</span>
<span class="t" style="top:1233.00px;font-size:15px;line-height:15px;color:#8f1d4a;font-weight:700;left:1068.60px;transform:translateX(-100%);">3</span>
<span class="t" style="top:1262.00px;font-size:15px;line-height:15px;color:#a9aeb8;letter-spacing:-0.138px;left:407.5px;">Since Midnight</span>
<span class="t" style="top:1156.00px;font-size:15px;line-height:15px;color:#3f8aa8;-webkit-text-stroke:0.35px currentColor;letter-spacing:-0.322px;left:1112px;">This Week</span>
<span class="t" style="top:1185.00px;font-size:15px;line-height:15px;color:#4b5563;letter-spacing:0.083px;left:1112px;">Contacts Added</span>
<span class="t" style="top:1185.00px;font-size:15px;line-height:15px;color:#3a5168;font-weight:700;left:1772.80px;transform:translateX(-100%);">4</span>
<span class="t" style="top:1209.00px;font-size:15px;line-height:15px;color:#4b5563;letter-spacing:0.006px;left:1112px;">Campaigns Created</span>
<span class="t" style="top:1209.00px;font-size:15px;line-height:15px;color:#3a5168;font-weight:700;left:1772.80px;transform:translateX(-100%);">0</span>
<span class="t" style="top:1233.00px;font-size:15px;line-height:15px;color:#4b5563;letter-spacing:-0.474px;left:1112px;">Messages Sent</span>
<span class="t" style="top:1233.00px;font-size:15px;line-height:15px;color:#3a5168;font-weight:700;letter-spacing:-1.516px;left:1771.28px;transform:translateX(-100%);">231</span>
<span class="t" style="top:1262.00px;font-size:15px;line-height:15px;color:#a9aeb8;letter-spacing:-0.338px;left:1112px;">Past 7 Days</span>
<span class="t" style="top:1156.00px;font-size:15px;line-height:15px;color:#4d916a;-webkit-text-stroke:0.35px currentColor;letter-spacing:0.010px;left:1816.7px;">Quick Actions</span>
<div class="b" style="left:1816px;top:1184px;width:662px;height:33.8px;background:#4d936c;border-radius:6.5px;"></div>
<span class="t" style="top:1193.00px;font-size:14.8px;line-height:14.8px;color:#fff;-webkit-text-stroke:0.35px currentColor;letter-spacing:0.236px;left:2147.12px;transform:translateX(-50%);">Add Contact</span>
<div class="b" style="left:1816px;top:1222px;width:662px;height:33.9px;background:#4d936c;border-radius:6.5px;"></div>
<span class="t" style="top:1232.00px;font-size:14.8px;line-height:14.8px;color:#fff;-webkit-text-stroke:0.35px currentColor;letter-spacing:0.057px;left:2147.03px;transform:translateX(-50%);">New Campaign</span>
<div class="b" style="left:1816px;top:1261.1px;width:662px;height:32.8px;background:#4d936c;border-radius:6.5px;"></div>
<span class="t" style="top:1269.00px;font-size:14.8px;line-height:14.8px;color:#fff;-webkit-text-stroke:0.35px currentColor;letter-spacing:0.265px;left:2147.13px;transform:translateX(-50%);">Create Template</span>
<span class="t" style="top:1305.00px;font-size:15px;line-height:15px;color:#a9aeb8;letter-spacing:0.118px;left:1816.7px;">Start Your Next Marketing Action</span>
</section>
</main>
<div class="b" style="left:2465px;top:1247.3px;width:72px;height:72px;background:#5145d8;border-radius:36px;box-shadow:0 6px 14px rgba(40,30,120,.28);"></div>
<svg class="b" style="left:2487px;top:1270px;" width="28" height="27" viewBox="0 0 28 27"><path d="M14.500 2.500a10.500 10.500 0 0 1 0 21 10.800 10.800 0 0 1-4.600-1L3 24.500l2.200-5.600A10.500 10.500 0 0 1 14.500 2.500z" fill="none" stroke="#fff" stroke-width="2.200" stroke-linejoin="round"/><circle cx="10" cy="13" r="1.300" fill="#fff"/><circle cx="14.500" cy="13" r="1.300" fill="#fff"/><circle cx="19" cy="13" r="1.300" fill="#fff"/></svg>
<div class="b" style="left:2551px;top:0px;width:8px;height:1330px;background:#f9fbfb;"></div>
<div class="b" style="left:2551px;top:0px;width:8px;height:822px;background:#888888;border-radius:0 0 4px 4px;"></div>
</body></html>
